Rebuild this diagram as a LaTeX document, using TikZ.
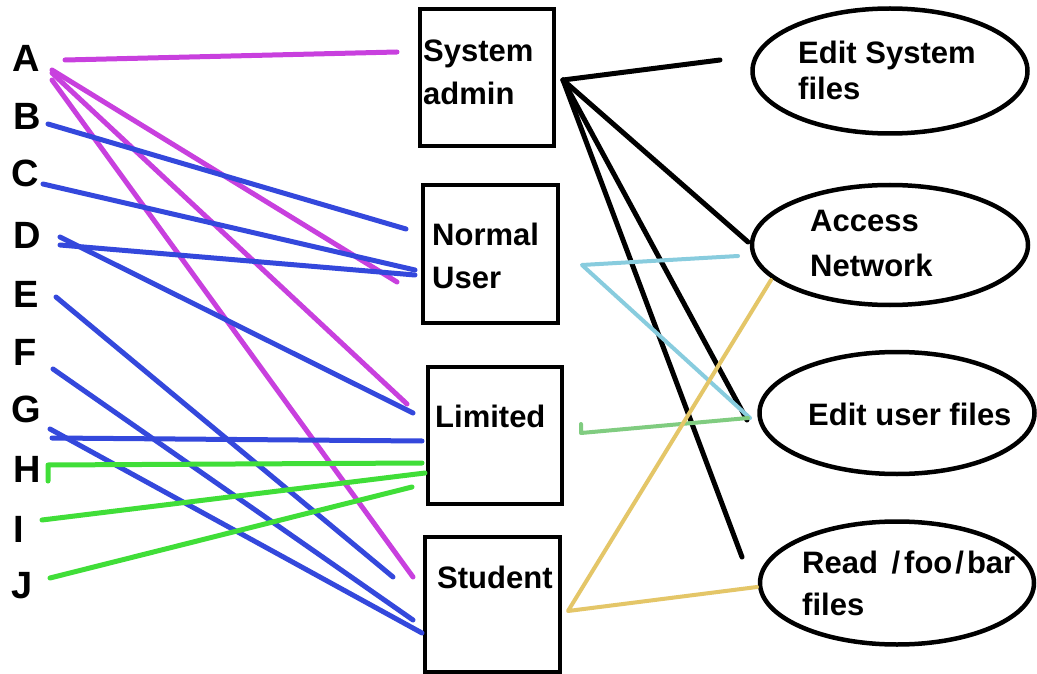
\documentclass[tikz,border=0pt]{standalone}
\usepackage{fontspec}
\setmainfont{Liberation Sans}
\usetikzlibrary{shapes.geometric}
\definecolor{cmag}{RGB}{200,64,222}
\definecolor{cblue}{RGB}{52,72,220}
\definecolor{cgreen}{RGB}{64,222,56}
\definecolor{clblue}{RGB}{136,204,222}
\definecolor{clgreen}{RGB}{128,204,128}
\definecolor{cyel}{RGB}{228,198,104}
\tikzset{
  box/.style={draw, line width=4pt, inner sep=0pt},
  oval/.style={draw, ellipse, line width=4.5pt, inner sep=0pt},
  lbl/.style={anchor=base west, inner sep=0pt, font=\fontsize{31}{43}\selectfont\bfseries},
  letter/.style={anchor=base west, inner sep=0pt, font=\fontsize{38}{40}\selectfont\bfseries},
  conn/.style={line width=5pt, line cap=round, line join=round},
  thin conn/.style={line width=4pt, line cap=round, line join=round},
}
\begin{document}
\begin{tikzpicture}[x=1pt,y=-1pt]
\useasboundingbox (0,0) rectangle (1037,674);
\fill[white] (0,0) rectangle (1037,674);

% letters
\node[letter] (A) at (12,72) {A};
\node[letter] (B) at (13,130) {B};
\node[letter] (C) at (11,187) {C};
\node[letter] (D) at (13,248) {D};
\node[letter] (E) at (13,307) {E};
\node[letter] (F) at (13,365) {F};
\node[letter] (G) at (11,422) {G};
\node[letter] (H) at (13,482) {H};
\node[letter] (I) at (13,542) {I};
\node[letter] (J) at (11,598) {J};

% boxes
\node[box, minimum width=134pt, minimum height=137pt] (sa) at (487,77.5) {};
\node[box, minimum width=135pt, minimum height=138pt] (nu) at (490.5,254) {};
\node[box, minimum width=134pt, minimum height=137pt] (li) at (495,435.5) {};
\node[box, minimum width=135pt, minimum height=135pt] (st) at (492.5,604.5) {};
\node[lbl] (sat1) at (423,62) {System};
\node[lbl] (sat2) at (423,105) {admin};
\node[lbl] (nut1) at (432,245) {Normal};
\node[lbl] (nut2) at (432,288) {User};
\node[lbl] (lit) at (435,427) {Limited};
\node[lbl] (stt) at (437,588) {Student};

% ellipses
\node[oval, minimum width=275pt, minimum height=125pt] (es) at (890,71) {};
\node[oval, minimum width=276pt, minimum height=120pt] (an) at (890,245) {};
\node[oval, minimum width=275pt, minimum height=122pt] (eu) at (897,413) {};
\node[oval, minimum width=274pt, minimum height=123pt] (rf) at (897,583) {};
\node[lbl] (est1) at (798,64) {Edit System};
\node[lbl] (est2) at (798,100) {files};
\node[lbl] (ant1) at (810,232) {Access};
\node[lbl] (ant2) at (810,276) {Network};
\node[lbl] (eut) at (808,425) {Edit user files};
\node[lbl] (rft1) at (802,573) {Read \kern5pt/\kern4pt foo\kern3pt/\kern3pt bar};
\node[lbl] (rft2) at (802,615) {files};

% end points
\coordinate (a0) at (65,60);   \coordinate (sa0) at (397,52);
\coordinate (a1) at (52,70);   \coordinate (nu0) at (397,282);
\coordinate (a2) at (52,73);   \coordinate (li0) at (407,404);
\coordinate (a3) at (52,80);   \coordinate (st0) at (413,577);
\coordinate (b0) at (48,124);  \coordinate (nu1) at (406,229);
\coordinate (c0) at (43,184);  \coordinate (nu2) at (415,270);
\coordinate (d0) at (60,245);  \coordinate (nu3) at (415,275);
\coordinate (d1) at (60,237);  \coordinate (li1) at (413,413);
\coordinate (e0) at (56,297);  \coordinate (st1) at (393,577);
\coordinate (f0) at (53,369);  \coordinate (st2) at (413,620);
\coordinate (g0) at (50,429);  \coordinate (st3) at (422,633);
\coordinate (g1) at (52,438);  \coordinate (li2) at (422,441);
\coordinate (h0) at (48,481);  \coordinate (h1) at (48,465);
\coordinate (li3) at (422,463);
\coordinate (i0) at (42,520);  \coordinate (li4) at (425,473);
\coordinate (j0) at (50,578);  \coordinate (li5) at (412,487);

\coordinate (hub) at (563,80);
\coordinate (es0) at (720,60);
\coordinate (an0) at (748,242);
\coordinate (eu0) at (747,420);
\coordinate (rf0) at (742,557);

\coordinate (nuR) at (582,265);
\coordinate (an1) at (738,256);
\coordinate (eu1) at (750,418);
\coordinate (liR) at (581,433);
\coordinate (liT) at (581,424);
\coordinate (eu2) at (748,418);
\coordinate (stR) at (568,611);
\coordinate (an2) at (771,280);
\coordinate (rf1) at (757,587);

% magenta
\draw[conn, cmag] (a0) -- (sa0);
\draw[conn, cmag] (a1) -- (nu0);
\draw[conn, cmag] (a2) -- (li0);
\draw[conn, cmag] (a3) -- (st0);
% blue
\draw[conn, cblue] (b0) -- (nu1);
\draw[conn, cblue] (c0) -- (nu2);
\draw[conn, cblue] (d0) -- (nu3);
\draw[conn, cblue] (d1) -- (li1);
\draw[conn, cblue] (e0) -- (st1);
\draw[conn, cblue] (f0) -- (st2);
\draw[conn, cblue] (g0) -- (st3);
\draw[conn, cblue] (g1) -- (li2);
% green
\draw[conn, cgreen] (h0) -- (h1) -- (li3);
\draw[conn, cgreen] (i0) -- (li4);
\draw[conn, cgreen] (j0) -- (li5);
% black
\draw[conn, black] (hub) -- (es0);
\draw[conn, black] (hub) -- (an0);
\draw[conn, black] (hub) -- (eu0);
\draw[conn, black] (hub) -- (rf0);
% light blue
\draw[thin conn, clblue] (an1) -- (nuR) -- (eu1);
% light green
\draw[thin conn, clgreen] (liT) -- (liR) -- (eu2);
% yellow
\draw[thin conn, cyel] (an2) -- (stR) -- (rf1);
\end{tikzpicture}
\end{document}
